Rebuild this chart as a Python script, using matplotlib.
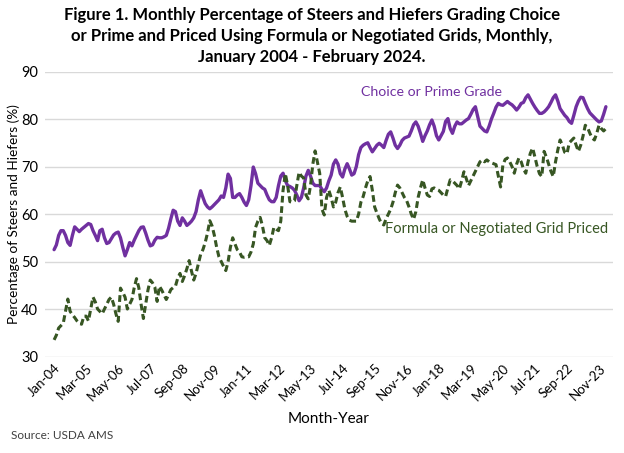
import matplotlib
matplotlib.use("Agg")
import matplotlib.pyplot as plt

plt.rcParams['font.family'] = ['Lato', 'DejaVu Sans']

# monthly, Jan 2004 - Feb 2024
choice_prime = [
    52.5, 53.5, 55.5, 56.5, 56.5, 55.5, 54.0, 53.4, 55.5, 57.3, 56.8, 56.3,
    56.8, 57.2, 57.6, 58.0, 57.8, 56.5, 55.5, 54.4, 56.5, 56.8, 55.0, 53.8,
    54.0, 54.8, 55.6, 56.0, 56.2, 55.0, 53.0, 51.2, 52.5, 54.0, 53.3, 54.5,
    55.5, 56.5, 57.2, 57.3, 56.0, 54.5, 53.3, 53.5, 54.5, 55.1, 55.0, 55.0,
    55.2, 55.5, 57.0, 59.0, 60.8, 60.5, 58.5, 57.6, 59.2, 58.5, 57.6, 58.0,
    58.5, 59.2, 60.5, 63.0, 64.9, 63.5, 62.2, 61.5, 61.1, 61.5, 62.0, 62.5,
    63.0, 63.8, 63.5, 65.5, 68.4, 67.5, 63.5, 63.5, 64.0, 64.3, 63.5, 62.5,
    61.8, 63.0, 66.0, 69.9, 68.5, 66.5, 66.0, 65.5, 65.2, 64.0, 63.0, 62.6,
    62.6, 63.5, 66.0, 68.0, 68.6, 67.0, 66.0, 65.8, 65.5, 65.0, 64.0, 62.8,
    63.5, 65.5, 68.0, 69.2, 68.0, 66.5, 66.0, 66.0, 66.0, 65.2, 64.7, 65.5,
    67.0, 68.2, 70.5, 71.4, 70.5, 68.5, 67.8, 69.5, 70.6, 69.5, 68.2, 68.5,
    70.0, 72.5, 74.0, 74.5, 74.8, 75.0, 74.0, 73.1, 73.8, 74.5, 74.9, 74.5,
    74.0, 75.5, 76.8, 77.3, 76.0, 74.5, 73.8, 74.5, 75.5, 76.0, 76.2, 76.4,
    77.5, 78.8, 79.4, 78.5, 77.0, 75.3, 76.5, 77.5, 78.8, 79.8, 78.5, 76.5,
    75.6, 76.5, 77.4, 79.5, 80.1, 78.0, 77.0, 78.5, 79.4, 79.0, 79.0, 79.4,
    79.8, 80.1, 81.0, 82.0, 82.6, 80.5, 78.5, 78.0, 77.5, 77.3, 78.5, 80.0,
    81.2, 82.5, 83.3, 83.0, 82.9, 83.3, 83.7, 83.3, 83.0, 82.5, 81.9, 82.5,
    83.3, 83.5, 84.5, 85.1, 84.2, 83.3, 82.5, 81.8, 81.2, 81.2, 81.5, 82.0,
    82.6, 83.5, 84.5, 85.1, 83.8, 82.2, 81.5, 80.8, 80.3, 79.5, 79.1, 80.8,
    82.6, 83.8, 84.6, 84.5, 83.3, 82.2, 81.3, 80.8, 80.3, 79.8, 79.4, 79.6,
    81.0, 82.6,
]

formula_grid = [
    33.5, 34.5, 36.0, 36.5, 37.0, 39.5, 42.1, 39.5, 38.8, 38.2, 37.5, 37.0,
    36.8, 38.5, 38.5, 37.5, 40.0, 42.5, 41.5, 40.0, 39.5, 39.0, 40.0, 41.0,
    42.0, 42.5, 41.0, 39.0, 37.4, 44.4, 43.5, 42.5, 40.0, 41.0, 42.0, 44.5,
    46.4, 44.5, 41.0, 38.0, 41.0, 44.0, 46.1, 45.5, 44.6, 41.6, 44.8, 44.0,
    43.0, 42.0, 43.0, 44.1, 44.5, 44.8, 46.5, 47.5, 45.8, 47.0, 48.5, 50.2,
    48.0, 46.1, 47.5, 49.5, 51.5, 52.5, 54.0, 56.0, 58.6, 57.5, 55.5, 53.0,
    51.0, 50.0, 49.0, 48.1, 50.0, 53.0, 55.0, 53.7, 52.5, 52.0, 51.0, 50.9,
    51.0, 51.0, 52.0, 53.7, 57.2, 58.5, 59.3, 57.5, 55.0, 54.4, 53.4, 55.0,
    57.2, 56.8, 56.5, 58.5, 65.0, 68.5, 66.0, 62.6, 62.5, 62.8, 66.0, 68.8,
    68.0, 67.6, 64.0, 63.2, 66.0, 70.5, 73.3, 71.0, 68.6, 61.0, 59.8, 63.5,
    65.0, 63.5, 61.5, 62.5, 64.5, 65.7, 63.5, 61.0, 59.5, 58.7, 58.5, 58.5,
    58.5, 60.0, 62.5, 63.7, 65.5, 67.0, 67.9, 65.0, 61.5, 60.2, 59.0, 58.0,
    57.7, 59.0, 60.0, 61.0, 62.5, 64.5, 66.1, 65.5, 64.5, 63.5, 62.8, 61.5,
    60.0, 58.9, 60.5, 63.5, 65.5, 67.2, 65.5, 64.0, 63.7, 65.3, 65.5, 65.2,
    65.0, 64.5, 64.0, 63.7, 65.5, 67.2, 67.0, 66.5, 66.0, 65.3, 67.0, 68.9,
    67.5, 66.0, 67.0, 68.0, 69.0, 70.0, 71.0, 71.4, 71.0, 71.4, 71.0, 70.8,
    70.6, 70.4, 68.0, 65.7, 70.3, 71.5, 71.8, 71.0, 70.0, 68.6, 70.5, 71.8,
    71.0, 69.5, 68.6, 71.0, 72.8, 73.9, 72.0, 70.0, 68.5, 67.9, 73.2, 72.0,
    70.5, 69.0, 67.9, 71.0, 73.5, 75.6, 74.5, 73.0, 72.7, 75.0, 75.5, 76.0,
    74.5, 73.2, 74.5, 76.4, 78.7, 78.2, 77.0, 76.0, 75.6, 77.0, 78.7, 78.0,
    77.5, 78.0,
]

tick_labels = ["Jan-04", "Mar-05", "May-06", "Jul-07", "Sep-08", "Nov-09",
               "Jan-11", "Mar-12", "May-13", "Jul-14", "Sep-15", "Nov-16",
               "Jan-18", "Mar-19", "May-20", "Jul-21", "Sep-22", "Nov-23"]

purple = "#7030A0"
green = "#375623"

fig = plt.figure(figsize=(6.24, 4.53), dpi=100)
ax = fig.add_axes([0.072, 0.213, 0.91, 0.629])

months = list(range(len(choice_prime)))
ax.plot(months, choice_prime, color=purple, lw=2.4, solid_capstyle="round")
ax.plot(months, formula_grid, color=green, lw=2.2, ls=(0, (2.2, 1.2)))

ax.set_ylim(30, 90)
ax.set_xlim(-4, 244)
ax.set_yticks(range(30, 91, 10))
ax.set_xticks(range(0, len(months), 14))
ax.set_xticklabels(tick_labels, rotation=45, ha="right", rotation_mode="anchor",
                   fontsize=9.5)
ax.tick_params(axis="y", labelsize=10.5, length=0, pad=5)
ax.tick_params(axis="x", length=0, pad=4)
ax.grid(axis="y", color="#d9d9d9", lw=1)
ax.set_axisbelow(True)
for s in ax.spines.values():
    s.set_visible(False)

ax.set_ylabel("Percentage of Steers and Hiefers (%)", fontsize=9.8)
ax.yaxis.set_label_coords(-0.044, 0.5)
ax.set_xlabel("Month-Year", fontsize=11, labelpad=6)

ax.text(164.8, 85.6, "Choice or Prime Grade", color=purple, fontsize=10.2,
        ha="center", va="center")
ax.text(242, 56.8, "Formula or Negotiated Grid Priced", color=green,
        fontsize=10.5, ha="right", va="center")

fig.text(0.5, 0.985, "Figure 1. Monthly Percentage of Steers and Hiefers Grading Choice\n"
         "or Prime and Priced Using Formula or Negotiated Grids, Monthly,\n"
         "January 2004 - February 2024.", ha="center", va="top",
         fontsize=12, fontweight="bold", linespacing=1.4)
fig.text(0.018, 0.03, "Source: USDA AMS", fontsize=8.5, color="#404040")

fig.savefig("out.png", dpi=100)
